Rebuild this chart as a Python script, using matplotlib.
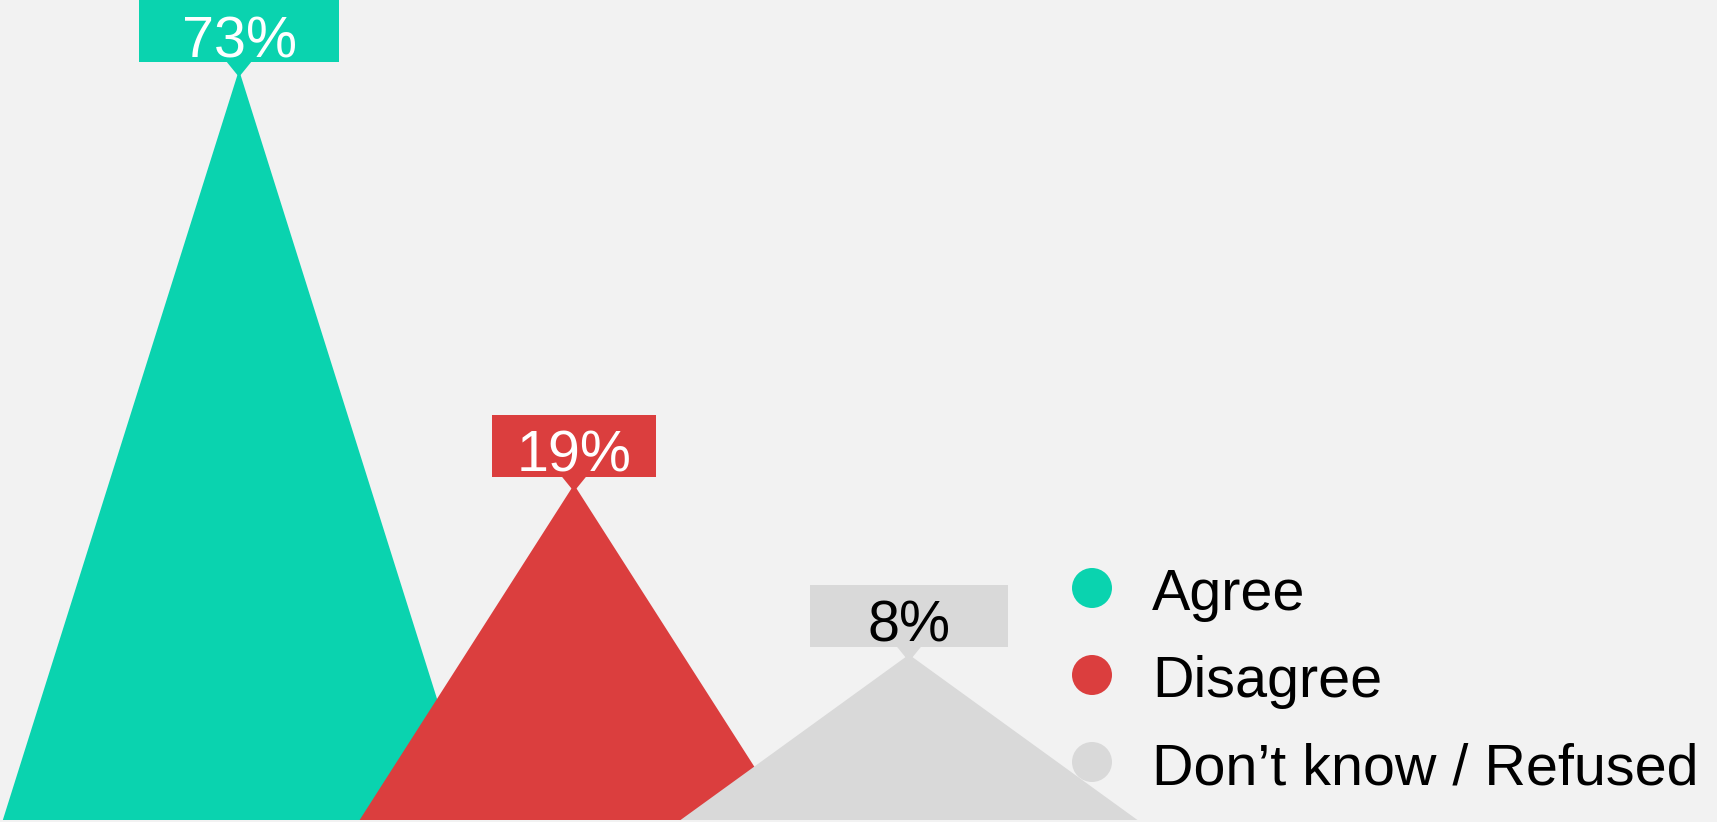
import numpy as np
import matplotlib.pyplot as plt
from matplotlib.patches import Polygon, Rectangle, Circle

# Data
labels = ['Agree', 'Disagree', 'Don\u2019t know / Refused']
values = [73, 19, 8]
value_text = ['73%', '19%', '8%']

# Styles
colors = ['#0ad3af', '#db3e3e', '#d9d9d9']
text_colors = ['white', 'white', 'black']
bg = '#f2f2f2'

# Layout (pixels / category units)
W, H = 1717, 822
x0, step = 239, 335                 # px of first peak, px between peaks
half_w = [0.705, 0.640, 0.682]     # half base width of each peak, in category units
box_w = [200, 164, 198]            # label box widths, px
box_h = 62
font_px = 57.5

plt.rcParams['font.family'] = ['Liberation Sans', 'DejaVu Sans']
fs = font_px * 72 / 100

fig = plt.figure(figsize=(W / 100, H / 100), dpi=100, facecolor=bg)
ax = fig.add_axes([0, 2 / H, 1, 1 - 2 / H])
ax.set_facecolor(bg)
ax.axis('off')

# peaks use a power scale (heights are not linear in the value)
p = 0.4
ax.set_yscale('function', functions=(lambda v: np.power(np.clip(v, 1e-9, None), p),
                                     lambda t: np.power(np.clip(t, 1e-9, None), 1 / p)))
px_per_unit = 179.0
t0 = 73 ** p - 750 / px_per_unit
t1 = t0 + (H - 2) / px_per_unit
ax.set_ylim(t0 ** (1 / p), t1 ** (1 / p))
ax.set_xlim(-x0 / step, (W - x0) / step)

base = ax.get_ylim()[0]
for i, v in enumerate(values):
    hw = half_w[i]
    ax.add_patch(Polygon([(i - hw, base), (i, v), (i + hw, base)], closed=True,
                         facecolor=colors[i], edgecolor='none', zorder=2 + i))

# overlay in pixel coords for labels and legend
ov = fig.add_axes([0, 0, 1, 1])
ov.set_xlim(0, W)
ov.set_ylim(0, H)
ov.axis('off')
ov.patch.set_alpha(0)

for i, v in enumerate(values):
    x, y = ax.transData.transform((i, v))
    bottom = y + 8
    ov.add_patch(Rectangle((x - box_w[i] / 2, bottom), box_w[i], box_h,
                           facecolor=colors[i], edgecolor='none', zorder=5))
    ov.add_patch(Polygon([(x - 13, bottom + 1), (x + 13, bottom + 1), (x, bottom - 15)],
                         closed=True, facecolor=colors[i], edgecolor='none', zorder=5))
    ov.text(x, bottom + 5, value_text[i], ha='center', va='baseline',
            fontsize=fs, color=text_colors[i], zorder=6)

# legend
circle_y = [588, 675, 762]
for i, lab in enumerate(labels):
    cy = H - circle_y[i]
    ov.add_patch(Circle((1092, cy), 20, facecolor=colors[i], edgecolor='none'))
    ov.text(1152, cy - 22, lab, ha='left', va='baseline', fontsize=fs, color='black')

fig.savefig('out.png', dpi=100, facecolor=bg)
